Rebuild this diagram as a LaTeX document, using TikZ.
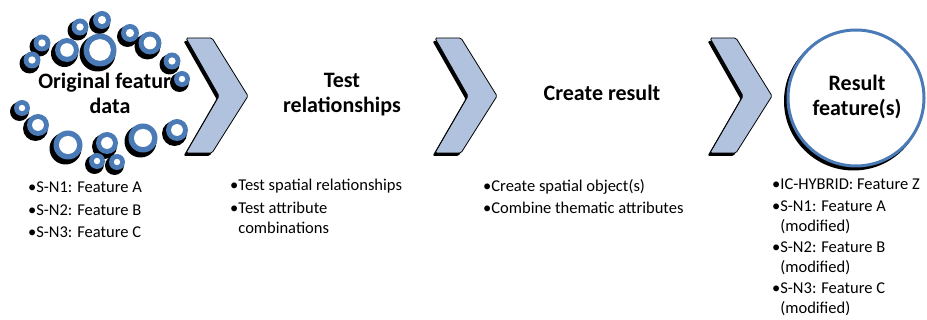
\documentclass[tikz,border=0pt]{standalone}
\usepackage{fontspec}
\setmainfont{Carlito}
\usepackage{tikz}
\definecolor{ringblue}{HTML}{4A7BB7}
\definecolor{chevfill}{HTML}{B0C2DE}

\begin{document}
\begin{tikzpicture}[x=1pt, y=-1pt,
  heading/.style={anchor=center, align=center, font=\fontsize{22}{25}\selectfont\bfseries},
  bullets/.style={anchor=north west, align=left, inner sep=0pt, font=\fontsize{16.5}{20}\selectfont},
  chevron/.style={fill=chevfill, draw=black, line width=0.8pt, rounded corners=1.5pt, line join=round}]
\useasboundingbox (0,0) rectangle (927,320);

\node[heading] (orig) at (110,93) {Original feature\\data};

% bubbles round the first heading
\foreach \x/\y/\r in {102/20/9, 80/27/8.5, 67/50/12, 100/50/16.5, 42/43/8.5, 32/60/8.5,
                      130/33/9, 150/43/11.5, 172/61/8.5, 182/79/8,
                      22/108/8, 38/125/11, 68/145/14.5, 107/143/11, 97/161/8,
                      117/162/8, 143/138/14.5, 177/130/11} {
  \fill[black] (\x-2.5,\y+3.5) circle (\r+1.5);
  \fill[ringblue] (\x,\y) circle (\r);
  \fill[white] (\x,\y) circle ({\r-4-0.1*\r});
}

% chevrons
\foreach \c in {186,435,710} {
  \fill[black, rounded corners=1.5pt] (\c-2.5,41) -- (\c+23.5,41) -- (\c+59.5,99) -- (\c+23.5,156) -- (\c-2.5,156) -- (\c+30.5,99) -- cycle;
  \draw[chevron] (\c,38) -- (\c+26,38) -- (\c+62,96) -- (\c+26,153) -- (\c,153) -- (\c+33,96) -- cycle;
}

% result circle
\fill[black] (853.5,101) circle (69.5);
\node[circle, draw=ringblue, line width=3pt, fill=white, minimum size=136pt, inner sep=0pt] (res) at (856,98) {};

\node[heading] (test) at (342,95) {Test\\relationships};
\node[heading] (create) at (602,93) {Create result};
\node[heading] (resname) at (857,97) {Result\\feature(s)};

\node[bullets] (l1) at (28,182) {•S-N1: Feature A\\[2.5pt]•S-N2: Feature B\\[2.5pt]•S-N3: Feature C};
\node[bullets] (l2) at (230,179) {•Test spatial relationships\\[2.5pt]•Test attribute\\\hphantom{•}combinations};
\node[bullets] (l3) at (483,179) {•Create spatial object(s)\\[2pt]•Combine thematic attributes};
\node[bullets] (l4) at (772,179) {•IC-HYBRID: Feature Z\\[1.5pt]•S-N1: Feature A\\\hphantom{•}(modified)\\[1pt]•S-N2: Feature B\\\hphantom{•}(modified)\\[1pt]•S-N3: Feature C\\\hphantom{•}(modified)};
\end{tikzpicture}
\end{document}
